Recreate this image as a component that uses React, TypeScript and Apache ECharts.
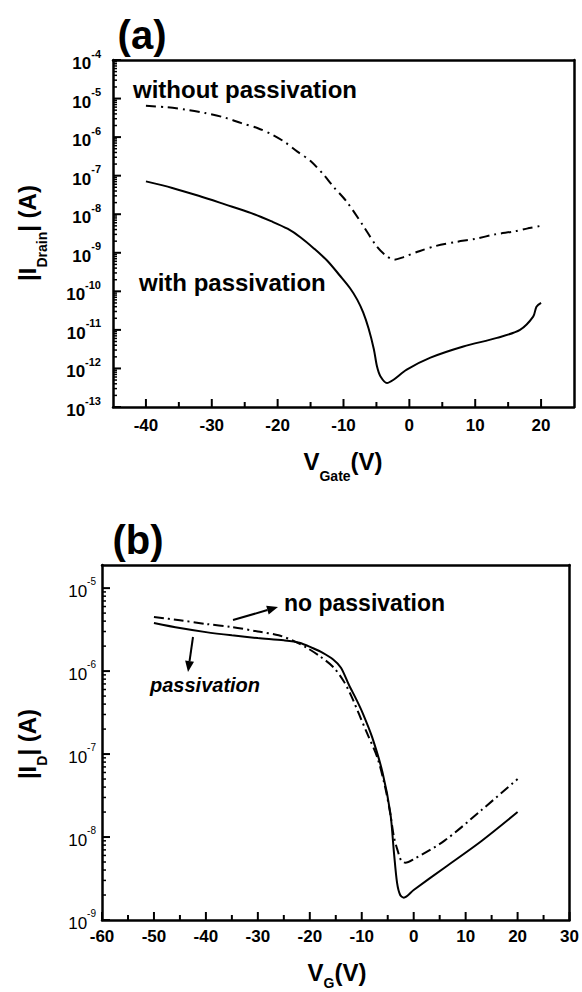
import React, { useEffect, useRef } from "react";
import * as echarts from "echarts";

const FONT = '"Liberation Sans", Arial, Helvetica, sans-serif';

// ---------- Panel (a) data ----------
const vgA_without = [-40, -37, -34, -31, -28, -25.5, -23, -21, -19, -17, -15, -13, -11.5, -9.5, -7, -5, -3.5, -2.3, -1, 1.5, 4, 7, 10, 13, 16, 18, 20];
const idA_without = [6.5e-6, 6.0e-6, 5.2e-6, 4.2e-6, 3.2e-6, 2.3e-6, 1.7e-6, 1.2e-6, 7.6e-7, 4.2e-7, 2.4e-7, 1.05e-7, 5.1e-8, 2.1e-8, 5.0e-9, 1.5e-9, 8.3e-10, 6.6e-10, 7.6e-10, 1.1e-9, 1.5e-9, 1.9e-9, 2.3e-9, 3.0e-9, 3.6e-9, 4.3e-9, 5.0e-9];
const vgA_with = [-40, -36, -32, -28, -24, -21, -18.5, -16.5, -14.5, -12.5, -10.5, -9, -7.9, -7, -6.2, -5.4, -4.9, -4.4, -3.4, -2.4, -0.4, 3.2, 8.2, 13.3, 16.8, 18.8, 19.3, 20];
const idA_with = [7.1e-8, 4.8e-8, 3.0e-8, 1.8e-8, 1.07e-8, 6.6e-9, 4.2e-9, 2.5e-9, 1.3e-9, 6.3e-10, 2.5e-10, 1.2e-10, 6.0e-11, 2.8e-11, 1.1e-11, 3.2e-12, 1.1e-12, 6.3e-13, 4.2e-13, 5.1e-13, 9.3e-13, 1.9e-12, 3.7e-12, 6.2e-12, 1.0e-11, 2.2e-11, 4.0e-11, 5.0e-11];

// ---------- Panel (b) data ----------
const vgB_nopass = [-50, -45, -40, -35, -30, -26, -23, -20.5, -18, -15.5, -13.5, -12, -10.5, -9, -7, -5.5, -4.5, -3.8, -3.1, -2.4, -1.6, 0, 6, 13, 20];
const idB_nopass = [4.5e-6, 4.1e-6, 3.7e-6, 3.4e-6, 3.0e-6, 2.7e-6, 2.3e-6, 1.9e-6, 1.5e-6, 1.12e-6, 7.6e-7, 5.0e-7, 3.0e-7, 1.8e-7, 9.1e-8, 4.0e-8, 1.9e-8, 1.0e-8, 6.9e-9, 5.2e-9, 4.9e-9, 5.4e-9, 9.1e-9, 2.1e-8, 5.0e-8];
const vgB_pass = [-50, -45, -40, -35, -30, -25, -22, -19.5, -17.5, -15.5, -14, -12.5, -11, -9.8, -8, -6, -4.5, -3.8, -3.2, -2.6, -1.9, 0, 6, 13, 20];
const idB_pass = [3.8e-6, 3.3e-6, 2.95e-6, 2.7e-6, 2.5e-6, 2.35e-6, 2.2e-6, 1.9e-6, 1.66e-6, 1.38e-6, 1.1e-6, 6.9e-7, 4.5e-7, 3.1e-7, 1.6e-7, 6.0e-8, 1.95e-8, 6.5e-9, 2.8e-9, 2.0e-9, 1.86e-9, 2.3e-9, 4.3e-9, 8.9e-9, 2.0e-8];

// ---------- tick values ----------
const xTicksA = [-40, -30, -20, -10, 0, 10, 20];
const xMinorA = [-35, -25, -15, -5, 5, 15];
const xTicksB = [-60, -50, -40, -30, -20, -10, 0, 10, 20, 30];
const xMinorB = [-55, -45, -35, -25, -15, -5, 5, 15, 25];
const yTicksA = [1e-13, 1e-12, 1e-11, 1e-10, 1e-9, 1e-8, 1e-7, 1e-6, 1e-5, 1e-4];
const yTicksB = [1e-9, 1e-8, 1e-7, 1e-6, 1e-5];

function minorLog(lo: number, hi: number, max: number) {
  const out: number[] = [];
  for (let d = lo; d <= hi; d++) for (let k = 2; k <= 9; k++) { const v = k * Math.pow(10, d); if (v < max) out.push(v); }
  return out;
}
const zip = (xs: number[], ys: number[]) => xs.map((x, i) => [x, ys[i]]);
function arrow(x1: number, y1: number, x2: number, y2: number) {
  const dx = x2 - x1, dy = y2 - y1, len = Math.hypot(dx, dy);
  const ux = dx / len, uy = dy / len, nx = -uy, ny = ux, hl = 11, hw = 4.5;
  const bx = x2 - ux * hl, by = y2 - uy * hl;
  return [
    { type: "line", shape: { x1, y1, x2: bx, y2: by }, style: { stroke: "#000", lineWidth: 2 } },
    { type: "polygon", shape: { points: [[x2, y2], [bx + nx * hw, by + ny * hw], [bx - nx * hw, by - ny * hw]] }, style: { fill: "#000" } },
  ];
}
const supLabel = (v: number) => `{b|10}{s|${Math.round(Math.log10(v))}}`;
const subRich = {
  a: { font: `bold 24px ${FONT}`, fill: "#000", lineHeight: 34, verticalAlign: "top" },
  s: { font: `bold 14px ${FONT}`, fill: "#000", lineHeight: 34, verticalAlign: "bottom" },
};
const subRichLow = {
  a: { font: `bold 24px ${FONT}`, fill: "#000", lineHeight: 30, verticalAlign: "top" },
  s: { font: `bold 14px ${FONT}`, fill: "#000", lineHeight: 30, verticalAlign: "bottom" },
};

export default function App() {
  const ref = useRef<HTMLDivElement>(null);
  useEffect(() => {
    if (!ref.current) return;
    const chart = echarts.init(ref.current, undefined, { renderer: "svg" });
    const axisLine = { show: true, onZero: false, lineStyle: { color: "#000", width: 2.5 } };
    const xLabel = { color: "#000", fontFamily: FONT, fontWeight: "bold", fontSize: 17 };
    const richA = {
      b: { fontFamily: FONT, fontWeight: "bold", fontSize: 17, color: "#000", lineHeight: 24, verticalAlign: "bottom" },
      s: { fontFamily: FONT, fontWeight: "bold", fontSize: 11, color: "#000", lineHeight: 14, verticalAlign: "top" },
    };
    const richB = {
      b: { fontFamily: FONT, fontSize: 17, color: "#000", lineHeight: 24, verticalAlign: "bottom" },
      s: { fontFamily: FONT, fontSize: 10, color: "#000", lineHeight: 14, verticalAlign: "top" },
    };
    const xMinA = -45, xMaxA = 25, xMinB = -60, xMaxB = 30;
    const yMinA = 1e-13, yMaxA = 1e-4, yMinB = 1e-9, yMaxB = 1.9e-5;
    const boxX = (g: number, min: number, max: number) => ({
      gridIndex: g, type: "value", min, max, position: "top",
      axisLine, axisTick: { show: false }, axisLabel: { show: false }, splitLine: { show: false },
    });
    const boxY = (g: number, min: number, max: number) => ({
      gridIndex: g, type: "log", min, max, position: "right",
      axisLine, axisTick: { show: false }, axisLabel: { show: false }, splitLine: { show: false },
    });

    const baseGraphic: any[] = [
      { type: "text", x: 142, y: 35, style: { text: "(a)", font: `bold 40px ${FONT}`, fill: "#000", align: "center", verticalAlign: "middle" } },
      { type: "text", x: 138, y: 540, style: { text: "(b)", font: `bold 40px ${FONT}`, fill: "#000", align: "center", verticalAlign: "middle" } },
      { type: "text", x: 133, y: 89, style: { text: "without passivation", font: `bold 24px ${FONT}`, fill: "#000", align: "left", verticalAlign: "middle" } },
      { type: "text", x: 139, y: 282, style: { text: "with passivation", font: `bold 24px ${FONT}`, fill: "#000", align: "left", verticalAlign: "middle" } },
      { type: "text", x: 284, y: 603, style: { text: "no passivation", font: `bold 23px ${FONT}`, fill: "#000", align: "left", verticalAlign: "middle" } },
      { type: "text", x: 150, y: 685, style: { text: "passivation", font: `italic bold 20px ${FONT}`, fill: "#000", align: "left", verticalAlign: "middle" } },
      ...arrow(233, 620, 278, 607),
      ...arrow(193, 637, 188, 672),
      { type: "text", x: 343, y: 466, style: { text: "{a|V}{s|Gate}{a|(V)}", align: "center", verticalAlign: "middle", rich: subRich } },
      { type: "text", x: 337, y: 975, style: { text: "{a|V}{s|G}{a|(V)}", align: "center", verticalAlign: "middle", rich: subRichLow } },
      { type: "text", x: 32, y: 233, rotation: Math.PI / 2, style: { text: "{a||I}{s|Drain}{a|| (A)}", align: "center", verticalAlign: "middle", rich: subRich } },
      { type: "text", x: 32, y: 744, rotation: Math.PI / 2, style: { text: "{a||I}{s|D}{a|| (A)}", align: "center", verticalAlign: "middle", rich: subRich } },
    ];

    const option: any = {
      animation: false,
      backgroundColor: "#fff",
      grid: [
        { left: 113, top: 60, width: 461, height: 347 },
        { left: 102, top: 565, width: 468, height: 355 },
      ],
      xAxis: [
        {
          gridIndex: 0, type: "value", min: xMinA, max: xMaxA, position: "bottom",
          axisLine, axisTick: { show: false },
          axisLabel: { ...xLabel, margin: 10, customValues: xTicksA },
          splitLine: { show: false },
        },
        {
          gridIndex: 1, type: "value", min: xMinB, max: xMaxB, interval: 10, position: "bottom",
          axisLine, axisTick: { show: false },
          axisLabel: { ...xLabel, margin: 8 },
          splitLine: { show: false },
        },
        boxX(0, xMinA, xMaxA),
        boxX(1, xMinB, xMaxB),
      ],
      yAxis: [
        {
          gridIndex: 0, type: "log", logBase: 10, min: yMinA, max: yMaxA, position: "left",
          axisLine, axisTick: { show: false },
          axisLabel: { customValues: yTicksA, formatter: supLabel, rich: richA, margin: 12 },
          splitLine: { show: false },
        },
        {
          gridIndex: 1, type: "log", logBase: 10, min: yMinB, max: yMaxB, position: "left",
          axisLine, axisTick: { show: false },
          axisLabel: { customValues: yTicksB, formatter: supLabel, rich: richB, margin: 6 },
          splitLine: { show: false },
        },
        boxY(0, yMinA, yMaxA),
        boxY(1, yMinB, yMaxB),
      ],
      series: [
        { type: "line", xAxisIndex: 0, yAxisIndex: 0, data: zip(vgA_without, idA_without), showSymbol: false, smooth: 0.3, lineStyle: { color: "#000", width: 2, type: [10, 5, 2, 5] } },
        { type: "line", xAxisIndex: 0, yAxisIndex: 0, data: zip(vgA_with, idA_with), showSymbol: false, smooth: 0.3, lineStyle: { color: "#000", width: 2 } },
        { type: "line", xAxisIndex: 1, yAxisIndex: 1, data: zip(vgB_nopass, idB_nopass), showSymbol: false, smooth: 0.3, lineStyle: { color: "#000", width: 2, type: [10, 4, 2, 4] } },
        { type: "line", xAxisIndex: 1, yAxisIndex: 1, data: zip(vgB_pass, idB_pass), showSymbol: false, smooth: 0.3, lineStyle: { color: "#000", width: 2 } },
      ],
      graphic: baseGraphic,
    };
    chart.setOption(option);

    // Tick marks: positions come from the axes' own scales via convertToPixel.
    const ticks: any[] = [];
    const addTicks = (xi: number, yi: number, pts: number[][], dir: "x" | "y", len: number, w: number) => {
      pts.forEach((d) => {
        const p = chart.convertToPixel({ xAxisIndex: xi, yAxisIndex: yi }, d) as number[];
        if (!p || !isFinite(p[0]) || !isFinite(p[1])) return;
        const shape = dir === "y"
          ? { x1: p[0], y1: p[1], x2: p[0] + len, y2: p[1] }
          : { x1: p[0], y1: p[1], x2: p[0], y2: p[1] - len };
        ticks.push({ type: "line", shape, style: { stroke: "#000", lineWidth: w }, z: 100 });
      });
    };
    addTicks(0, 0, yTicksA.map((v) => [xMinA, v]), "y", 8, 2);
    addTicks(0, 0, minorLog(-13, -5, yMaxA).map((v) => [xMinA, v]), "y", 4, 1.5);
    addTicks(0, 0, xTicksA.map((v) => [v, yMinA]), "x", 8, 2);
    addTicks(0, 0, xMinorA.map((v) => [v, yMinA]), "x", 5, 2);
    addTicks(1, 1, yTicksB.map((v) => [xMinB, v]), "y", 8, 2);
    addTicks(1, 1, minorLog(-9, -5, yMaxB).map((v) => [xMinB, v]), "y", 4, 1.5);
    addTicks(1, 1, xTicksB.map((v) => [v, yMinB]), "x", 8, 2);
    addTicks(1, 1, xMinorB.map((v) => [v, yMinB]), "x", 5, 2);
    chart.setOption({ graphic: [...baseGraphic, ...ticks] });

    return () => chart.dispose();
  }, []);
  return <div ref={ref} style={{ position: "fixed", left: 0, top: 0, width: 582, height: 992, background: "#fff" }} />;
}
